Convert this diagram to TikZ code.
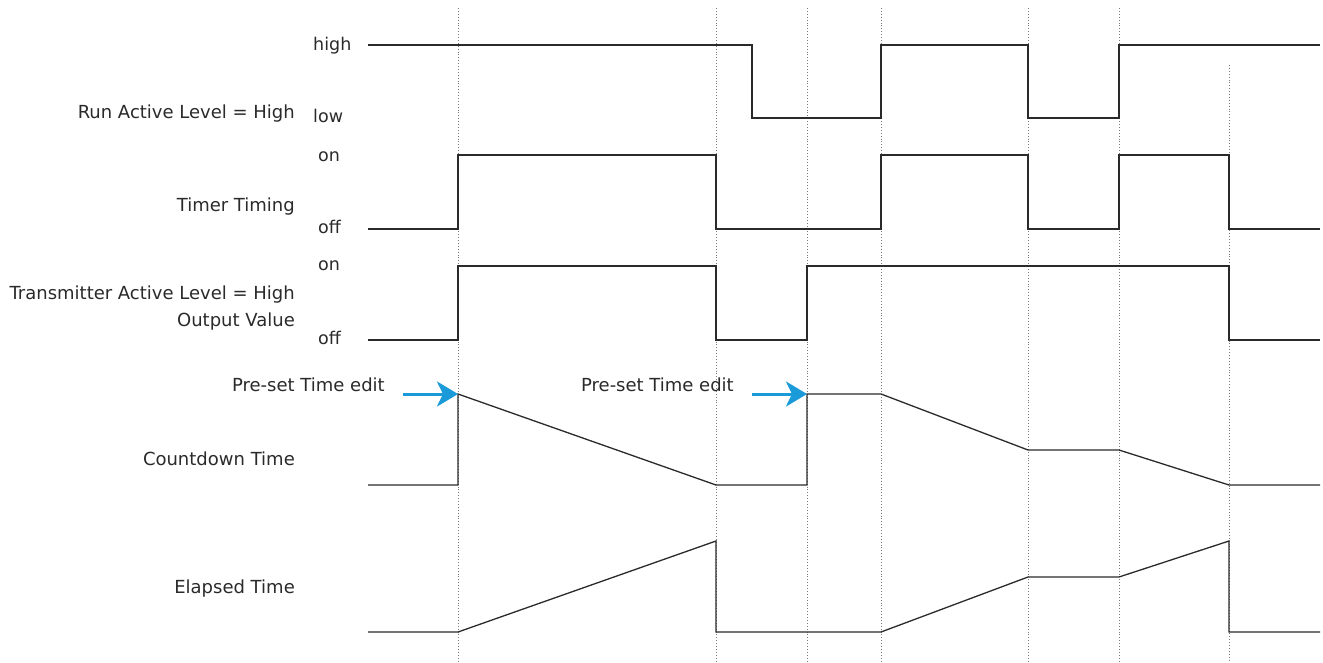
\documentclass[tikz,border=0pt]{standalone}
\usepackage{fontspec}
\setmainfont{DejaVu Sans}
\usetikzlibrary{arrows.meta,calc,positioning}
\definecolor{ink}{HTML}{2A2A2A}
\definecolor{guide}{HTML}{7A7A7A}
\definecolor{editblue}{HTML}{1A9AD8}
\tikzset{
  wave/.style={
    draw=ink,
    line width=1.3pt,
    line join=miter
  },
  marker/.style={
    draw=guide,
    line width=0.9pt,
    dash pattern=on 0.9pt off 2pt
  },
  signame/.style={
    anchor=base east,
    text=ink,
    inner sep=0pt,
    font=\fontsize{18}{21}\selectfont
  },
  level/.style={
    anchor=base west,
    text=ink,
    inner sep=0pt,
    font=\fontsize{17.5}{21}\selectfont
  },
  note/.style={
    signame
  },
  edit/.style={
    -{Stealth[length=21pt,width=25pt,inset=6pt]},
    draw=editblue,
    line width=3pt
  }
}

\begin{document}
\begin{tikzpicture}[x=1pt,y=-1pt]
  \useasboundingbox (0,0) rectangle (1323,662);

  % event markers
  \foreach \t in {458,716,807,881,1028,1119}
    \draw[marker] (\t,8) -- (\t,662);
  \draw[marker] (1229,65) -- (1229,662);

  % signal names
  \node[signame] (run) at (295,118) {Run Active Level = High};
  \node[signame] (timing) at (295,211) {Timer Timing};
  \node[signame] (tx) at (295,299) {Transmitter Active Level = High};
  \node[signame] (txout) at (295,326) {Output Value};
  \node[signame] (countdown) at (295,465) {Countdown Time};
  \node[signame] (elapsed) at (295,593) {Elapsed Time};

  % levels
  \node[level] (runhigh) at (313,50) {high};
  \node[level] (runlow) at (313,122) {low};
  \node[level] (timon) at (318,161) {on};
  \node[level] (timoff) at (318,233) {off};
  \node[level] (txon) at (318,270) {on};
  \node[level] (txoff) at (318,344) {off};

  % waveforms
  \draw[wave] (368,45) -- (752,45) -- (752,118) -- (881,118) -- (881,45)
    -- (1028,45) -- (1028,118) -- (1119,118) -- (1119,45) -- (1320,45);
  \draw[wave] (368,229) -- (458,229) -- (458,155) -- (716,155) -- (716,229)
    -- (881,229) -- (881,155) -- (1028,155) -- (1028,229) -- (1119,229)
    -- (1119,155) -- (1229,155) -- (1229,229) -- (1320,229);
  \draw[wave] (368,340) -- (458,340) -- (458,266) -- (716,266) -- (716,340)
    -- (807,340) -- (807,266) -- (1229,266) -- (1229,340) -- (1320,340);
  \draw[wave] (368,485) -- (458,485) -- (458,394) -- (716,485) -- (807,485)
    -- (807,394) -- (881,394) -- (1028,450) -- (1119,450) -- (1229,485)
    -- (1320,485);
  \draw[wave] (368,632) -- (458,632) -- (716,541) -- (716,632) -- (881,632)
    -- (1028,577) -- (1119,577) -- (1229,541) -- (1229,632) -- (1320,632);

  % pre-set edits
  \node[note] (edit1) at (385,391) {Pre-set Time edit};
  \node[note] (edit2) at (734,391) {Pre-set Time edit};
  \coordinate (from1) at (403,394);
  \coordinate (to1) at (458,394);
  \coordinate (from2) at (752,394);
  \coordinate (to2) at (807,394);
  \draw[edit] (from1) -- (to1);
  \draw[edit] (from2) -- (to2);
\end{tikzpicture}
\end{document}
